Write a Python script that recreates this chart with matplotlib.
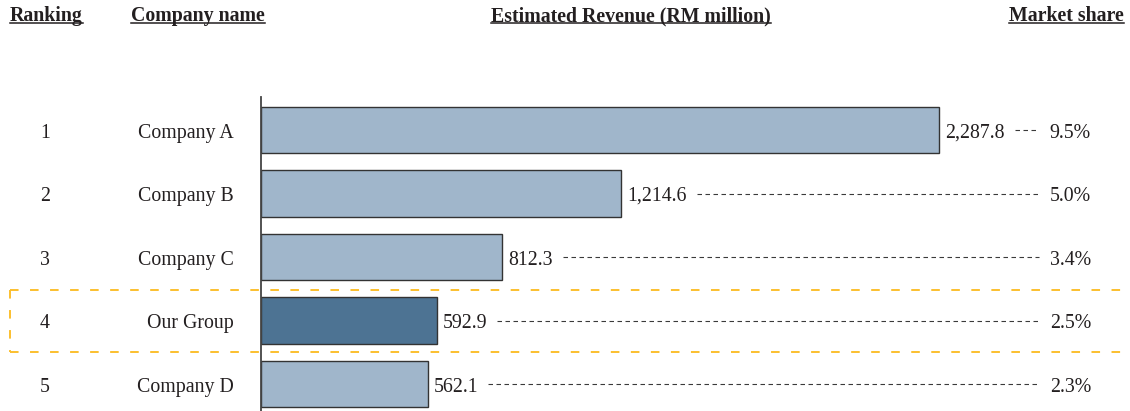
import matplotlib
matplotlib.use("Agg")
import matplotlib.pyplot as plt
from matplotlib.lines import Line2D
from matplotlib.transforms import blended_transform_factory, offset_copy

rankings = ["1", "2", "3", "4", "5"]
companies = ["Company A", "Company B", "Company C", "Our Group", "Company D"]
revenue = [2287.8, 1214.6, 812.3, 592.9, 562.1]
revenue_labels = ["2,287.8", "1,214.6", "812.3", "592.9", "562.1"]
shares = ["9.5%", "5.0%", "3.4%", "2.5%", "2.3%"]
highlight = "Our Group"

W, H = 1130, 411
plt.rcParams['font.family'] = ['Liberation Serif', 'DejaVu Serif']
fig = plt.figure(figsize=(W / 100, H / 100), dpi=100)
FS = 14.3
TXT = '#231f20'

# axes: x from 261 to 1130 px, y from 97 to 411 px
ax = fig.add_axes([261 / W, 0, (W - 261) / W, (411 - 97) / H])
ypos = list(range(len(companies)))
colors = ['#4d7393' if c == highlight else '#a0b6cb' for c in companies]
ax.barh(ypos, revenue, height=0.725, color=colors, edgecolor='#333333', linewidth=1.0)
ax.set_xlim(0, (W - 261) / 0.2964)
ax.set_ylim(4.425, -0.52)
for s in ['top', 'right', 'bottom']:
    ax.spines[s].set_visible(False)
ax.spines['left'].set_color('#444444')
ax.spines['left'].set_linewidth(1.3)
ax.set_xticks([])
ax.set_yticks([])
ax.patch.set_alpha(0)

# headers
hdrs = [("Ranking", 10, 'left'), ("Company name", 131, 'left'),
        ("Estimated Revenue (RM million)", 631, 'center'), ("Market share", 1124, 'right')]
for t, x, ha in hdrs:
    fig.text(x / W, 1 - 21 / H, t, ha=ha, va='baseline', fontsize=FS, fontweight='bold', color=TXT)

fig.canvas.draw()
r = fig.canvas.get_renderer()
for t in fig.texts:
    bb = t.get_window_extent(r)
    y = 1 - 22.8 / H
    fig.add_artist(Line2D([bb.x0 / W, bb.x1 / W], [y, y], color=TXT, lw=1.1))

trans_y = blended_transform_factory(fig.transFigure, ax.transData)
trans_txt = offset_copy(trans_y, fig=fig, x=0, y=-7.5, units='dots')
value_texts = []
for i, (rk, c, v, lab, sh) in enumerate(zip(rankings, companies, revenue, revenue_labels, shares)):
    fig.text(45 / W, i, rk, transform=trans_txt, ha='center', va='baseline', fontsize=FS, color=TXT)
    fig.text(234 / W, i, c, transform=trans_txt, ha='right', va='baseline', fontsize=FS, color=TXT)
    vt = ax.annotate(lab, (v, i), xytext=(4.5, -7.5 * 0.72), textcoords='offset points',
                     ha='left', va='baseline', fontsize=FS, color=TXT)
    value_texts.append(vt)
    fig.text(1091 / W, i, sh, transform=trans_txt, ha='right', va='baseline', fontsize=FS, color=TXT)

fig.canvas.draw()
for i, vt in enumerate(value_texts):
    bb = vt.get_window_extent(r)
    x0 = bb.x1 + 10
    x1 = 1039
    fig.add_artist(Line2D([x0 / W, x1 / W], [i, i], transform=trans_y,
                          color='#3a3a3a', lw=0.8, linestyle=(0, (4.05, 3.15))))

# highlight box (dashed yellow)
gold = '#fbbf2e'
top, bot, left = 290, 352, 10
ls = (0, (4.4, 5.9))
fig.add_artist(Line2D([left / W, 1.0], [1 - top / H] * 2, color=gold, lw=1.4, linestyle=ls))
fig.add_artist(Line2D([left / W, 1.0], [1 - bot / H] * 2, color=gold, lw=1.4, linestyle=ls))
fig.add_artist(Line2D([left / W, left / W], [1 - top / H, 1 - bot / H], color=gold, lw=1.4, linestyle=ls))

fig.savefig("out.png", dpi=100)
